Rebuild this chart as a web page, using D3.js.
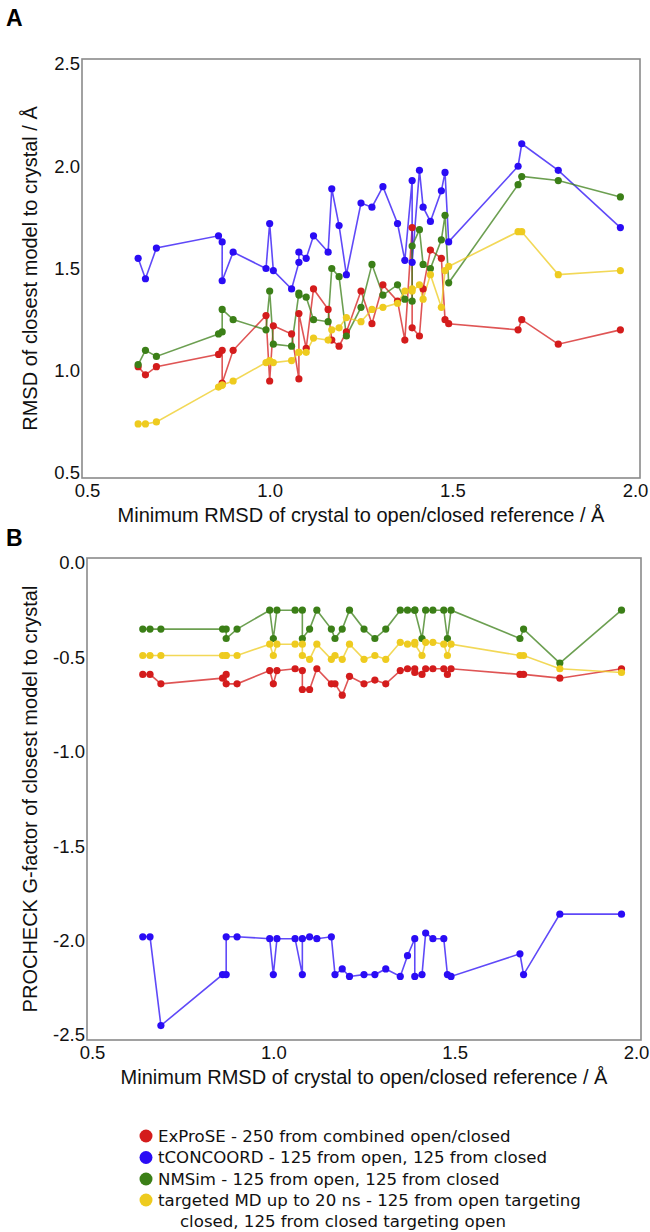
<!DOCTYPE html>
<html><head><meta charset="utf-8">
<script src="https://cdn.jsdelivr.net/npm/d3@7"></script>
<style>body{margin:0;background:#fff}</style>
</head><body>
<script>
// ---------- data ----------
const crystalX = [0.64,0.66,0.69,0.86,0.87,0.87,0.90,0.99,1.00,1.01,1.06,1.08,1.08,1.10,1.12,1.16,1.17,1.19,1.21,1.25,1.28,1.31,1.35,1.37,1.39,1.39,1.41,1.42,1.44,1.47,1.48,1.49,1.68,1.69,1.79,1.96];

const exproseRMSD = [1.02,0.98,1.02,1.08,1.10,0.94,1.10,1.27,0.95,1.22,1.18,0.96,1.28,1.11,1.40,1.30,1.15,1.12,1.19,1.39,1.23,1.42,1.34,1.15,1.70,1.21,1.17,1.40,1.59,1.55,1.25,1.23,1.20,1.25,1.13,1.20];
const tconcoordRMSD = [1.55,1.45,1.60,1.66,1.63,1.44,1.58,1.50,1.72,1.49,1.40,1.53,1.58,1.55,1.66,1.58,1.89,1.71,1.47,1.82,1.80,1.90,1.72,1.54,1.93,1.53,1.98,1.80,1.73,1.88,1.97,1.63,2.00,2.11,1.98,1.70];
const nmsimRMSD = [1.03,1.10,1.07,1.18,1.19,1.30,1.25,1.20,1.39,1.13,1.12,1.38,1.37,1.36,1.25,1.24,1.50,1.46,1.17,1.31,1.52,1.37,1.42,1.35,1.34,1.61,1.69,1.52,1.50,1.64,1.76,1.43,1.91,1.95,1.93,1.85];
const tmdRMSD = [0.74,0.74,0.75,0.92,0.93,0.93,0.95,1.04,1.05,1.04,1.05,1.09,1.09,1.09,1.16,1.15,1.20,1.21,1.26,1.24,1.30,1.31,1.33,1.39,1.40,1.39,1.42,1.35,1.47,1.31,1.49,1.51,1.68,1.68,1.47,1.49];

const exproseG = [-0.59,-0.59,-0.64,-0.61,-0.59,-0.64,-0.64,-0.57,-0.64,-0.57,-0.56,-0.57,-0.67,-0.67,-0.56,-0.64,-0.64,-0.70,-0.60,-0.64,-0.62,-0.64,-0.57,-0.56,-0.56,-0.58,-0.59,-0.56,-0.56,-0.56,-0.59,-0.56,-0.59,-0.59,-0.61,-0.56];
const tconcoordG = [-1.98,-1.98,-2.45,-2.18,-2.18,-1.98,-1.98,-1.99,-2.18,-1.99,-1.99,-2.18,-1.99,-1.98,-1.99,-1.98,-2.18,-2.15,-2.19,-2.18,-2.18,-2.15,-2.19,-2.08,-1.99,-2.19,-2.18,-1.96,-1.99,-1.99,-2.18,-2.19,-2.07,-2.18,-1.86,-1.86];
const nmsimG = [-0.35,-0.35,-0.35,-0.35,-0.35,-0.40,-0.35,-0.25,-0.40,-0.25,-0.25,-0.25,-0.40,-0.35,-0.25,-0.35,-0.40,-0.35,-0.25,-0.35,-0.40,-0.35,-0.25,-0.25,-0.25,-0.25,-0.40,-0.25,-0.25,-0.25,-0.40,-0.25,-0.40,-0.35,-0.53,-0.25];
const tmdG = [-0.49,-0.49,-0.49,-0.49,-0.49,-0.49,-0.49,-0.43,-0.49,-0.43,-0.43,-0.43,-0.49,-0.51,-0.43,-0.51,-0.49,-0.51,-0.43,-0.51,-0.49,-0.51,-0.42,-0.43,-0.42,-0.43,-0.49,-0.42,-0.42,-0.43,-0.49,-0.43,-0.49,-0.49,-0.56,-0.58];

const xTicks = [0.5, 1.0, 1.5, 2.0];
const yTicksA = [0.5, 1.0, 1.5, 2.0, 2.5];
const yTicksB = [0.0, -0.5, -1.0, -1.5, -2.0, -2.5];

const seriesNames = ["ExProSE - 250 from combined open/closed",
  "tCONCOORD - 125 from open, 125 from closed",
  "NMSim - 125 from open, 125 from closed",
  "targeted MD up to 20 ns - 125 from open targeting",
  "closed, 125 from closed targeting open"];
const seriesColors = ["#d41c1c", "#2a0cf5", "#3b7f17", "#eecb1f"];

const xTitle = "Minimum RMSD of crystal to open/closed reference / Å";
const yTitleA = "RMSD of closest model to crystal / Å";
const yTitleB = "PROCHECK G-factor of closest model to crystal";

// ---------- drawing ----------
const W = 650, H = 1232;
const FONT = "'Liberation Sans', Arial, sans-serif";
const svg = d3.select("body").append("svg").attr("width", W).attr("height", H)
  .style("font-family", FONT);

function panel(box, yDomain, yTicks, seriesVals, yTitle, letter, letterY) {
  const pad = 5;
  const x = d3.scaleLinear().domain([0.5, 2.0]).range([box.x0 + pad, box.x1 - pad]);
  const y = d3.scaleLinear().domain(yDomain).range([box.y1 - pad, box.y0 + pad]);
  const g = svg.append("g");

  g.append("rect").attr("x", box.x0).attr("y", box.y0)
    .attr("width", box.x1 - box.x0).attr("height", box.y1 - box.y0)
    .attr("fill", "none").attr("stroke", "#8a8a8a").attr("stroke-width", 1.6);

  const xAxis = d3.axisBottom(x).tickValues(xTicks).tickFormat(d3.format(".1f")).tickSize(0).tickPadding(0);
  const xa = g.append("g").attr("transform", `translate(0,${box.y1 + 6})`).call(xAxis);
  xa.select(".domain").remove();
  xa.selectAll("text").attr("font-size", 18.5).attr("font-family", FONT).attr("fill", "#111");

  const yAxis = d3.axisLeft(y).tickValues(yTicks).tickFormat(d3.format(".1f")).tickSize(0).tickPadding(0);
  const ya = g.append("g").attr("transform", `translate(${box.x0 - 2},0)`).call(yAxis);
  ya.select(".domain").remove();
  ya.selectAll("text").attr("font-size", 18.5).attr("font-family", FONT).attr("fill", "#111")
    .text(d => d3.format(".1f")(d).replace("−", "-"));

  g.append("text").attr("x", (box.x0 + box.x1) / 2).attr("y", box.y1 + 44)
    .attr("text-anchor", "middle").attr("font-size", 20).attr("fill", "#111").text(xTitle);

  g.append("text").attr("transform", `translate(37,${(box.y0 + box.y1) / 2}) rotate(-90)`)
    .attr("text-anchor", "middle").attr("font-size", 20).attr("fill", "#111").text(yTitle);

  g.append("text").attr("x", 6).attr("y", letterY).attr("font-size", 23).attr("font-weight", "bold")
    .attr("fill", "#000").text(letter);

  const line = d3.line().x((d, i) => x(crystalX[i])).y(d => y(d));
  seriesVals.forEach((vals, k) => {
    g.append("path").datum(vals).attr("d", line).attr("fill", "none")
      .attr("stroke", seriesColors[k]).attr("stroke-width", 1.6).attr("stroke-opacity", 0.75);
  });
  seriesVals.forEach((vals, k) => {
    g.selectAll(null).data(vals).join("circle")
      .attr("cx", (d, i) => x(crystalX[i])).attr("cy", d => y(d)).attr("r", 3.6)
      .attr("fill", seriesColors[k]);
  });
}

panel({x0: 82, x1: 640, y0: 59, y1: 478}, [0.5, 2.5], yTicksA,
  [exproseRMSD, tconcoordRMSD, nmsimRMSD, tmdRMSD], yTitleA, "A", 26);
panel({x0: 87, x1: 641, y0: 558, y1: 1040}, [-2.5, 0.0], yTicksB,
  [exproseG, tconcoordG, nmsimG, tmdG], yTitleB, "B", 546);

// legend
const lg = svg.append("g").style("font-family", "'DejaVu Sans', Verdana, sans-serif");
const rowY = [1136, 1157.5, 1179, 1200, 1221];
seriesColors.forEach((c, i) => {
  lg.append("circle").attr("cx", 146).attr("cy", rowY[i]).attr("r", 6.5).attr("fill", c);
});
seriesNames.forEach((t, i) => {
  lg.append("text").attr("x", i < 4 ? 158 : 180).attr("y", rowY[i] + 5.8)
    .attr("font-size", 16.6).attr("fill", "#111").text(t);
});
</script>
</body></html>
